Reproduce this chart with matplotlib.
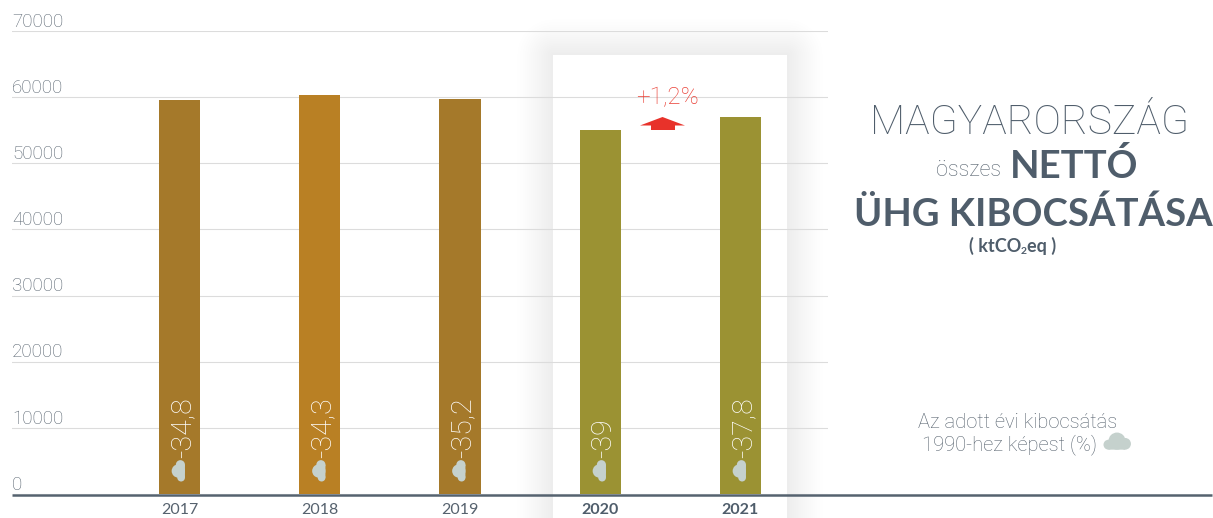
import numpy as np
import matplotlib.pyplot as plt
from matplotlib.patches import Circle, Polygon, Rectangle

plt.rcParams['font.family'] = ['Lato', 'DejaVu Sans']

# --- Data ---
years = ['2017', '2018', '2019', '2020', '2021']
emissions = [59570, 60320, 59720, 55030, 57000]
change_1990 = ['-34,8', '-34,3', '-35,2', '-39', '-37,8']
y_ticks = [0, 10000, 20000, 30000, 40000, 50000, 60000, 70000]
bar_colors = ['#a5792a', '#b98024', '#a5792a', '#9b9233', '#9b9233']
change_label = '+1,2%'

dark = '#4f5d6b'
grey = '#56626e'
cloud = '#c5d1cd'
thin = dict(family=['Roboto', 'DejaVu Sans'], fontweight='light')

W, H = 1213, 518
fig = plt.figure(figsize=(W / 100, H / 100), dpi=100, facecolor='white')


def box(left, top, right, bottom):
    return [left / W, 1 - bottom / H, (right - left) / W, (bottom - top) / H]


# pixel-based layers under and over the chart
back = fig.add_axes([0, 0, 1, 1], zorder=0)
front = fig.add_axes([0, 0, 1, 1], zorder=2)
for a in (back, front):
    a.set_xlim(0, W)
    a.set_ylim(H, 0)
    a.axis('off')

# soft shadow and white panel behind 2020-2021
px, py = np.meshgrid(np.arange(W) + 0.5, np.arange(H) + 0.5)
dx = np.maximum(np.maximum(553 - px, px - 787), 0)
dy = np.maximum(55 - py, 0)
dist = np.hypot(dx, dy)
shade = np.clip(1 - dist / 36, 0, 1) ** 1.2
rgba = np.zeros((H, W, 4))
rgba[..., :3] = 0.9
rgba[..., 3] = shade * 0.7
back.imshow(rgba, extent=(0, W, H, 0), aspect='auto', interpolation='bilinear')
back.add_patch(Rectangle((553, 55), 234, H - 55, fc='white', ec='none'))

# --- Chart ---
ax = fig.add_axes(box(12, 31, 828, 494), zorder=1)
ax.patch.set_visible(False)
x = np.arange(len(years))
ax.bar(x, emissions, width=0.293, color=bar_colors, zorder=3)
ax.set_xlim(-1.194, 4.624)
ax.set_ylim(0, 70000)

for s in ax.spines.values():
    s.set_visible(False)
ax.set_yticks(y_ticks)
ax.set_yticklabels([])
ax.tick_params(axis='y', length=0)
ax.grid(axis='y', color='#dcdcdc', lw=0.8)
ax.set_axisbelow(True)

ax.set_xticks(x)
ax.set_xticklabels(years, fontsize=11.5, color=grey)
ax.tick_params(axis='x', length=0, pad=6.5)
for lab in ax.get_xticklabels()[3:]:
    lab.set_fontweight('bold')
    lab.set_color(dark)

for val in y_ticks:
    ax.text(0, val + 1400, str(val), transform=ax.get_yaxis_transform(),
            fontsize=13.5, color=grey, ha='left', va='center', **thin)

# values written upward inside the bars
for i, lab in enumerate(change_1990):
    ax.text(i + 0.025, 5500, lab, rotation=90, ha='center', va='bottom', color='white',
            fontsize=20.5, zorder=5, **thin)

# baseline runs past the plot area
front.plot([12, 1212], [494.5, 494.5], color='#55626f', lw=1.8, solid_capstyle='butt')


# --- Cloud icon ---
def draw_cloud(cx, cy, r, upright=True):
    def place(ox, oy):
        # turned a quarter with the rotated bar labels when not upright
        if upright:
            return (cx + ox * r, cy + oy * r)
        return (cx + oy * r, cy - ox * r)

    for ox, oy, size in [(-0.95, 0.3, 0.55), (0.0, -0.1, 0.95), (0.9, 0.2, 0.65)]:
        front.add_patch(Circle(place(ox, oy), size * r, fc=cloud, ec='none'))
    corners = [(-0.95, 0.3), (0.9, 0.2), (0.9, 0.85), (-0.95, 0.85)]
    front.add_patch(Polygon([place(*c) for c in corners], fc=cloud, ec='none'))


for px_x in [179, 319.5, 459.5, 600, 740]:
    draw_cloud(px_x, 471, 7, upright=False)
draw_cloud(1117, 442, 9)

# --- Change between 2020 and 2021 ---
front.add_patch(Polygon([(640, 125.5), (662.5, 117), (685, 125.5), (675, 125.5),
                         (675, 130), (651, 130), (651, 125.5)], fc='#e8322a', ec='none'))
front.text(667, 98, change_label, color='#ea4036', fontsize=17.5,
           ha='center', va='center', **thin)

# --- Title block ---
front.text(1029, 123, 'MAGYARORSZÁG', color=dark, fontsize=29.5,
           ha='center', va='center', **thin)
front.text(1001, 171, 'összes', color=grey, fontsize=15.5,
           ha='right', va='center', **thin)
front.text(1010, 166, 'NETTÓ', color=dark, fontsize=27.5, fontweight='bold',
           ha='left', va='center')
front.text(1033.5, 214, 'ÜHG KIBOCSÁTÁSA', color=dark, fontsize=27.5, fontweight='bold',
           ha='center', va='center')
front.text(969, 246, '( ktCO', color=dark, fontsize=13, fontweight='bold', ha='left', va='center')
front.text(1021, 251, '2', color=dark, fontsize=7.5, fontweight='bold', ha='left', va='center')
front.text(1027, 246, 'eq )', color=dark, fontsize=13, fontweight='bold', ha='left', va='center')

# --- Legend note ---
front.text(1018, 422, 'Az adott évi kibocsátás', color=grey, fontsize=14.5,
           ha='center', va='center', **thin)
front.text(1010, 445, '1990-hez képest (%)', color=grey, fontsize=14.5,
           ha='center', va='center', **thin)

fig.savefig('out.png', dpi=100)
